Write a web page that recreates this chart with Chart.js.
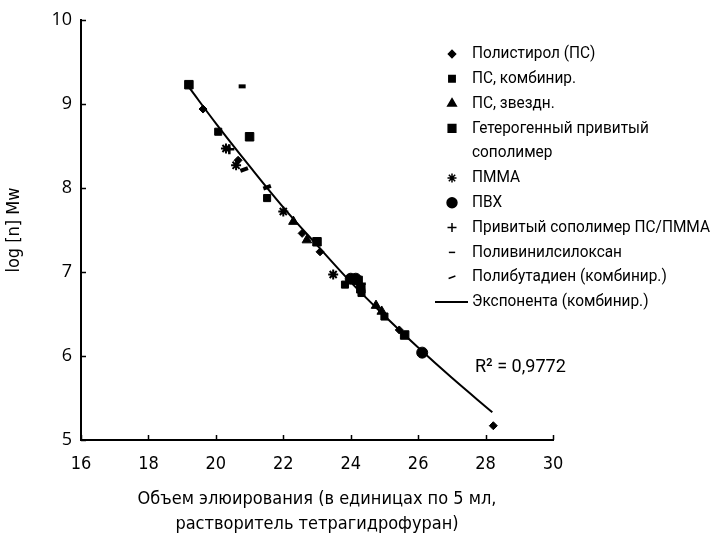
<!DOCTYPE html>
<html>
<head>
  <title>Калибровка ГПХ</title>
  <script src="https://cdn.jsdelivr.net/npm/chart.js"></script>
  <style>
    body {
      margin: 0;
      background: #ffffff;
    }

    .wrap {
      width: 712px;
      height: 540px;
    }
  </style>
</head>
<body>
  <div class="wrap">
    <canvas id="gpc" width="712" height="540"></canvas>
  </div>

  <script>
    // elution volume (x) / log [n] Mw (y) per polymer type
    const psX = [19.62, 20.66, 22.56, 23.09, 24.3, 25.44, 28.23];
    const psY = [8.94, 8.33, 7.46, 7.24, 6.8, 6.31, 5.17];

    const psCombX = [20.07, 21.52, 23.83, 24.32, 25.0];
    const psCombY = [8.67, 7.88, 6.85, 6.75, 6.47];

    const psStarX = [22.3, 22.7, 24.75, 24.92];
    const psStarY = [7.6, 7.38, 6.6, 6.53];

    const heteroX = [19.2, 21.0, 23.0, 24.22, 24.3, 25.6];
    const heteroY = [9.23, 8.61, 7.36, 6.9, 6.8, 6.25];

    const pmmaX = [20.3, 20.6, 22.0, 23.48];
    const pmmaY = [8.47, 8.27, 7.72, 6.97];

    const pvcX = [24.0, 24.15, 26.12];
    const pvcY = [6.92, 6.92, 6.04];

    const graftX = [20.4, 24.3];
    const graftY = [8.46, 6.86];

    const siloxX = [20.78];
    const siloxY = [9.21];

    const pbdX = [21.52, 20.84];
    const pbdY = [8.01, 8.22];

    // exponential trend line
    const fitX = [19.2, 20, 21, 22, 23, 24, 25, 26, 27, 28.2];
    const fitY = [9.2, 8.77, 8.26, 7.77, 7.32, 6.88, 6.48, 6.1, 5.74, 5.33];

    const xTicks = [16, 18, 20, 22, 24, 26, 28, 30];
    const yTicks = [5, 6, 7, 8, 9, 10];
    const r2Text = "R\u00b2 = 0,9772";

    const toPoints = (xs, ys) => xs.map((x, i) => ({ x: x, y: ys[i] }));

    const series = [
      { label: "Полистирол (ПС)", x: psX, y: psY, style: "rectRot", r: 4 },
      { label: "ПС, комбинир.", x: psCombX, y: psCombY, style: "rect", r: 5 },
      { label: "ПС, звездн.", x: psStarX, y: psStarY, style: "triangle", r: 5.5 },
      { label: ["Гетерогенный привитый", "сополимер"], x: heteroX, y: heteroY, style: "rect", r: 6 },
      { label: "ПММА", x: pmmaX, y: pmmaY, style: "star", r: 5, bw: 2 },
      { label: "ПВХ", x: pvcX, y: pvcY, style: "circle", r: 5.5 },
      { label: "Привитый сополимер ПС/ПММА", x: graftX, y: graftY, style: "cross", r: 5, bw: 2.5 },
      { label: "Поливинилсилоксан", x: siloxX, y: siloxY, style: "line", r: 3.5, bw: 4 },
      { label: "Полибутадиен (комбинир.)", x: pbdX, y: pbdY, style: "line", r: 4, bw: 4, rot: -20 }
    ];
    const fitLabel = "Экспонента (комбинир.)";

    const datasets = series.map(s => ({
      label: Array.isArray(s.label) ? s.label.join(" ") : s.label,
      data: toPoints(s.x, s.y),
      pointStyle: s.style,
      pointRadius: s.r,
      pointRotation: s.rot || 0,
      pointBorderWidth: s.bw || 1,
      backgroundColor: "#000",
      borderColor: "#000",
      showLine: false
    }));

    datasets.push({
      label: fitLabel,
      data: toPoints(fitX, fitY),
      showLine: true,
      borderColor: "#000",
      borderWidth: 2,
      pointRadius: 0,
      tension: 0.4,
      fill: false,
      order: -1
    });

    const condensed = "'DejaVu Sans Condensed', 'Liberation Sans Narrow', sans-serif";

    // condensed-looking text: a regular face squeezed horizontally
    function narrowText(ctx, text, x, y, sx) {
      ctx.save();
      ctx.translate(x, y);
      ctx.scale(sx, 1);
      ctx.fillText(text, 0, 0);
      ctx.restore();
    }

    // ticks point inward, legend and R² sit inside the plot on the right
    const extras = {
      id: "extras",
      afterDraw(chart) {
        const ctx = chart.ctx;
        const xs = chart.scales.x;
        const ys = chart.scales.y;
        const area = chart.chartArea;

        ctx.save();
        ctx.strokeStyle = "#000";
        ctx.lineWidth = 1.5;
        ctx.beginPath();
        xTicks.forEach(v => {
          const px = Math.round(xs.getPixelForValue(v)) + 0.5;
          ctx.moveTo(px, area.bottom);
          ctx.lineTo(px, area.bottom - 5);
        });
        yTicks.forEach(v => {
          const py = Math.round(ys.getPixelForValue(v)) + 0.5;
          ctx.moveTo(area.left, py);
          ctx.lineTo(area.left + 5, py);
        });
        ctx.stroke();

        // legend
        const markX = 452;
        const textX = 472;
        const rightEdge = 710;
        let y = 54;
        const step = 24.8;
        ctx.font = "17px Roboto, sans-serif";
        ctx.fillStyle = "#000";
        ctx.textBaseline = "middle";
        const longest = Math.max(...series.map(s => ctx.measureText([].concat(s.label)[0]).width));
        const sx = Math.min(1, (rightEdge - textX) / longest);
        series.forEach(s => {
          Chart.helpers.drawPoint(ctx, {
            pointStyle: s.style,
            radius: s.r * 0.9,
            rotation: s.rot || 0,
            borderWidth: s.bw || 1
          }, markX, y);
          ctx.fillStyle = "#000";
          ctx.strokeStyle = "#000";
          [].concat(s.label).forEach((t, i) => {
            narrowText(ctx, t, textX, y + i * step, sx);
          });
          y += step * [].concat(s.label).length;
        });
        ctx.lineWidth = 2;
        ctx.beginPath();
        ctx.moveTo(435, y);
        ctx.lineTo(468, y);
        ctx.stroke();
        narrowText(ctx, fitLabel, textX, y, sx);

        ctx.font = "19px Roboto, sans-serif";
        narrowText(ctx, r2Text, 475, 367, 0.95);
        ctx.restore();
      }
    };

    new Chart(document.getElementById("gpc"), {
      type: "scatter",
      data: { datasets: datasets },
      options: {
        responsive: false,
        animation: false,
        layout: { padding: { top: 20, right: 159, left: 0, bottom: 0 } },
        plugins: {
          legend: { display: false },
          tooltip: { enabled: false }
        },
        scales: {
          x: {
            type: "linear",
            min: 16,
            max: 30,
            afterFit: scale => { scale.height = 100; },
            afterBuildTicks: scale => { scale.ticks = xTicks.map(v => ({ value: v })); },
            grid: { display: false, drawTicks: false },
            border: { display: true, color: "#000", width: 2 },
            ticks: { color: "#000", padding: 14, font: { family: condensed, size: 18 } },
            title: {
              display: true,
              text: ["Объем элюирования (в единицах по 5 мл,", "растворитель тетрагидрофуран)"],
              color: "#000",
              padding: { top: 12 },
              font: { family: condensed, size: 18, lineHeight: 1.35 }
            }
          },
          y: {
            min: 5,
            max: 10,
            afterFit: scale => { scale.width = 81; },
            afterBuildTicks: scale => { scale.ticks = yTicks.map(v => ({ value: v })); },
            grid: { display: false, drawTicks: false },
            border: { display: true, color: "#000", width: 2 },
            ticks: { color: "#000", padding: 9, font: { family: "'Open Sans', sans-serif", size: 18 } },
            title: {
              display: true,
              text: "log [n] Mw",
              color: "#000",
              padding: { bottom: 8 },
              font: { family: condensed, size: 18 }
            }
          }
        }
      },
      plugins: [extras]
    });
  </script>
</body>
</html>
